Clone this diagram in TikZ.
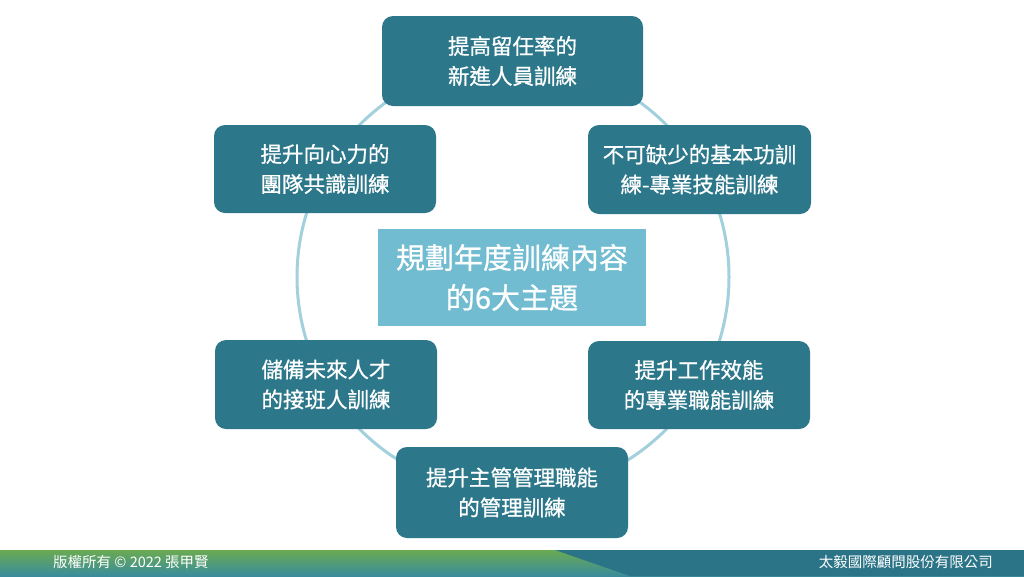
\documentclass[tikz,border=0pt]{standalone}
\usepackage{fontspec}
\newfontfamily\cjk{Noto Sans CJK TC}
\newfontfamily\cjkmid[FakeBold=0.8]{Noto Sans CJK TC}
\usetikzlibrary{positioning}
\definecolor{boxteal}{HTML}{2C778A}
\definecolor{centerblue}{HTML}{71BCD1}
\definecolor{ringblue}{HTML}{A2D0DC}
\definecolor{footgreen}{HTML}{6AAA52}
\definecolor{footteal}{HTML}{3A8C9C}
\definecolor{footdark}{HTML}{2B7487}
\tikzset{
  topic/.style={fill=boxteal, rounded corners=11pt, text=white, align=center,
    inner sep=0pt, font=\cjkmid\fontsize{21.5}{30}\selectfont},
  hub/.style={fill=centerblue, text=white, align=center, inner sep=0pt,
    font=\cjkmid\fontsize{29}{40}\selectfont},
  foot/.style={text=white, inner sep=0pt, font=\cjk\fontsize{14.5}{16}\selectfont}
}
\begin{document}
\begin{tikzpicture}[x=1pt,y=-1pt]
\useasboundingbox (0,0) rectangle (1024,576);
\fill[white] (0,0) rectangle (1024,576);
% ring
\draw[ringblue, line width=3pt] (513,277) circle[radius=216pt];
% boxes
\node[topic, minimum width=261pt, minimum height=90pt] (t1) at (512.5,61) {提高留任率的\\新進人員訓練};
\node[topic, minimum width=223pt, minimum height=89pt] (t2) at (699.5,169.5) {不可缺少的基本功訓\\練-專業技能訓練};
\node[topic, minimum width=222pt, minimum height=88pt] (t3) at (699,385) {提升工作效能\\的專業職能訓練};
\node[topic, minimum width=232pt, minimum height=91pt] (t4) at (512,492.5) {提升主管管理職能\\的管理訓練};
\node[topic, minimum width=222pt, minimum height=89pt] (t5) at (326,384.5) {儲備未來人才\\的接班人訓練};
\node[topic, minimum width=222pt, minimum height=88pt] (t6) at (325,169) {提升向心力的\\團隊共識訓練};
\node[hub, minimum width=268pt, minimum height=97pt] (hub) at (512,277.5) {規劃年度訓練內容\\的6大主題};
% footer
\shade[top color=footgreen, bottom color=footteal] (0,550) rectangle (1024,576);
\fill[footdark] (555,550) -- (1024,550) -- (1024,576) -- (630,576) -- cycle;
\node[foot, anchor=west] (copy) at (53,562) {版權所有 © 2022 張甲賢};
\node[foot, anchor=east] (company) at (993,562) {太毅國際顧問股份有限公司};
\end{tikzpicture}
\end{document}
